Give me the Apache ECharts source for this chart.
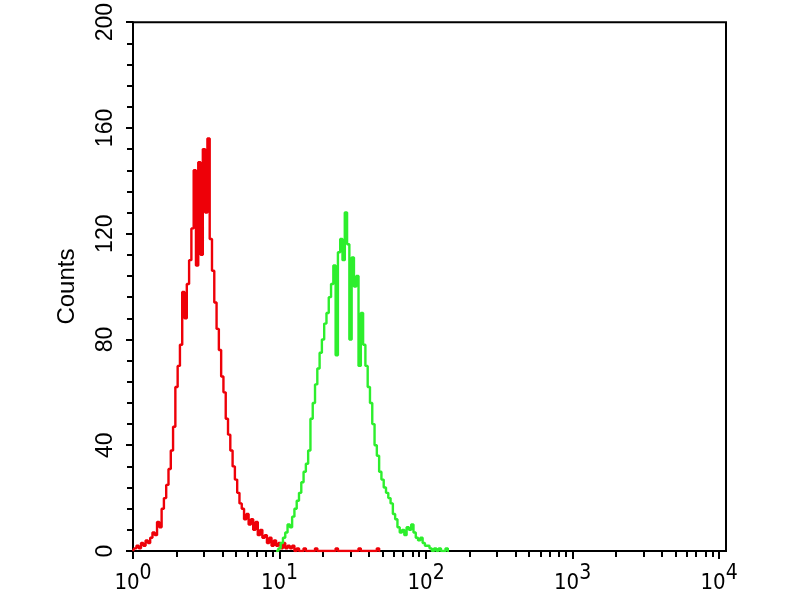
<!DOCTYPE html>
<html>
<head>
<meta charset="utf-8">
<script src="https://cdn.jsdelivr.net/npm/echarts@6/dist/echarts.min.js"></script>
<style>
html, body { margin: 0; padding: 0; background: #fff; }
#main { width: 800px; height: 600px; }
</style>
</head>
<body>
<div id="main"></div>
<script>
// 通道：4个数量级，每个数量级64通道 (10^0 .. 10^4)
var channelsPerDecade = 64;
var channelCount = 260;
var decadeLabels = ['0', '1', '2', '3', '4'];
// 每个数量级内 2..9 的小刻度位置（通道）
var minorTickChannels = [19, 31, 39, 45, 50, 54, 58, 61];
var yTicks = [0, 40, 80, 120, 160, 200];

// 红色（对照）直方图，从通道0开始
var redCounts = [
    0, 1, 2, 1, 3, 2, 4, 3, 5, 7,
    6, 11, 9, 16, 20, 25, 31, 38, 47, 62,
    70, 78, 98, 88, 101, 110, 122, 144, 108, 147,
    112, 152, 128, 156, 118, 106, 94, 84, 76, 66,
    60, 50, 44, 38, 32, 27, 22, 18, 16, 12,
    14, 10, 12, 8, 11, 6, 8, 5, 6, 3,
    5, 2, 4, 2, 3, 1, 3, 1, 2, 1,
    2, 0, 1, 0, 0, 1, 0, 0, 0, 0,
    1, 0, 0, 0, 0, 0, 0, 0, 0, 1,
    0, 0, 0, 0, 0, 0, 0, 0, 0, 1,
    0, 0, 0, 0, 0, 0, 0, 1, 0
];

// 绿色（样品）直方图，从通道63开始
var greenStart = 63;
var greenCounts = [
    0, 1, 3, 5, 7, 10, 9, 13, 16, 19,
    22, 26, 30, 33, 38, 50, 56, 63, 69, 75,
    80, 86, 90, 96, 101, 108, 74, 113, 118, 110,
    128, 116, 80, 111, 100, 104, 70, 90, 78, 70,
    62, 56, 48, 40, 36, 30, 27, 24, 22, 20,
    18, 14, 12, 9, 7, 8, 6, 9, 8, 10,
    7, 5, 4, 5, 3, 2, 2, 1, 0, 1,
    0, 1, 0, 0, 1, 0
];

var channels = [];
for (var i = 0; i < channelCount; i++) channels.push(String(i));

var majorChannels = decadeLabels.map(function (d, i) { return i * channelsPerDecade; });
var minorChannels = [];
for (var d = 0; d < 4; d++) {
    minorTickChannels.forEach(function (c) { minorChannels.push(d * channelsPerDecade + c); });
}

var greenData = new Array(greenStart).fill(null).concat(greenCounts);

var myChart = echarts.init(document.getElementById('main'));

var option = {
    backgroundColor: '#fff',
    animation: false,
    grid: {
        left: 133,
        right: 74,
        top: 21,
        bottom: 49,
        show: true,
        borderColor: '#000',
        borderWidth: 2
    },
    xAxis: [
        {
            type: 'category',
            data: channels,
            boundaryGap: false,
            axisLine: { lineStyle: { color: '#000', width: 2 } },
            axisTick: {
                length: 8,
                lineStyle: { color: '#000', width: 2 },
                interval: function (index) { return majorChannels.indexOf(index) >= 0; }
            },
            axisLabel: {
                interval: function (index) { return majorChannels.indexOf(index) >= 0; },
                margin: 12,
                formatter: function (value) {
                    var n = parseInt(value, 10) / channelsPerDecade;
                    return '{b|10}{s|' + decadeLabels[n] + '}';
                },
                rich: {
                    b: {
                        fontFamily: 'Liberation Sans Narrow, DejaVu Sans Condensed, sans-serif',
                        fontSize: 22, color: '#000', lineHeight: 22, verticalAlign: 'bottom'
                    },
                    s: {
                        fontFamily: 'Liberation Sans Narrow, DejaVu Sans Condensed, sans-serif',
                        fontSize: 21, color: '#000', verticalAlign: 'top', padding: [0, 0, 10, 0]
                    }
                }
            },
            splitLine: { show: false }
        },
        {
            type: 'category',
            data: channels,
            boundaryGap: false,
            position: 'bottom',
            axisLine: { show: false },
            axisTick: {
                length: 6,
                lineStyle: { color: '#000', width: 2 },
                interval: function (index) { return minorChannels.indexOf(index) >= 0; }
            },
            axisLabel: { show: false },
            splitLine: { show: false }
        }
    ],
    yAxis: {
        type: 'value',
        min: 0,
        max: 200,
        interval: 40,
        name: 'Counts',
        nameLocation: 'middle',
        nameRotate: 90,
        nameGap: 54,
        nameTextStyle: { fontFamily: 'Liberation Sans, Arial, sans-serif', fontSize: 24, color: '#000' },
        axisLine: { show: true, lineStyle: { color: '#000', width: 2 } },
        axisTick: { show: true, length: 7, lineStyle: { color: '#000', width: 2 } },
        minorTick: { show: true, splitNumber: 5, length: 6, lineStyle: { color: '#000', width: 2 } },
        axisLabel: {
            rotate: 90,
            margin: 16,
            fontFamily: 'Liberation Sans, Arial, sans-serif',
            fontSize: 23,
            color: '#000',
            customValues: yTicks
        },
        splitLine: { show: false }
    },
    series: [
        {
            name: 'control',
            type: 'line',
            step: 'middle',
            showSymbol: false,
            data: redCounts,
            lineStyle: { color: '#ee0008', width: 2.4 },
            z: 3
        },
        {
            name: 'sample',
            type: 'line',
            step: 'middle',
            showSymbol: false,
            data: greenData,
            lineStyle: { color: '#2dee2d', width: 2.4 },
            z: 4
        }
    ]
};

myChart.setOption(option);
</script>
</body>
</html>
